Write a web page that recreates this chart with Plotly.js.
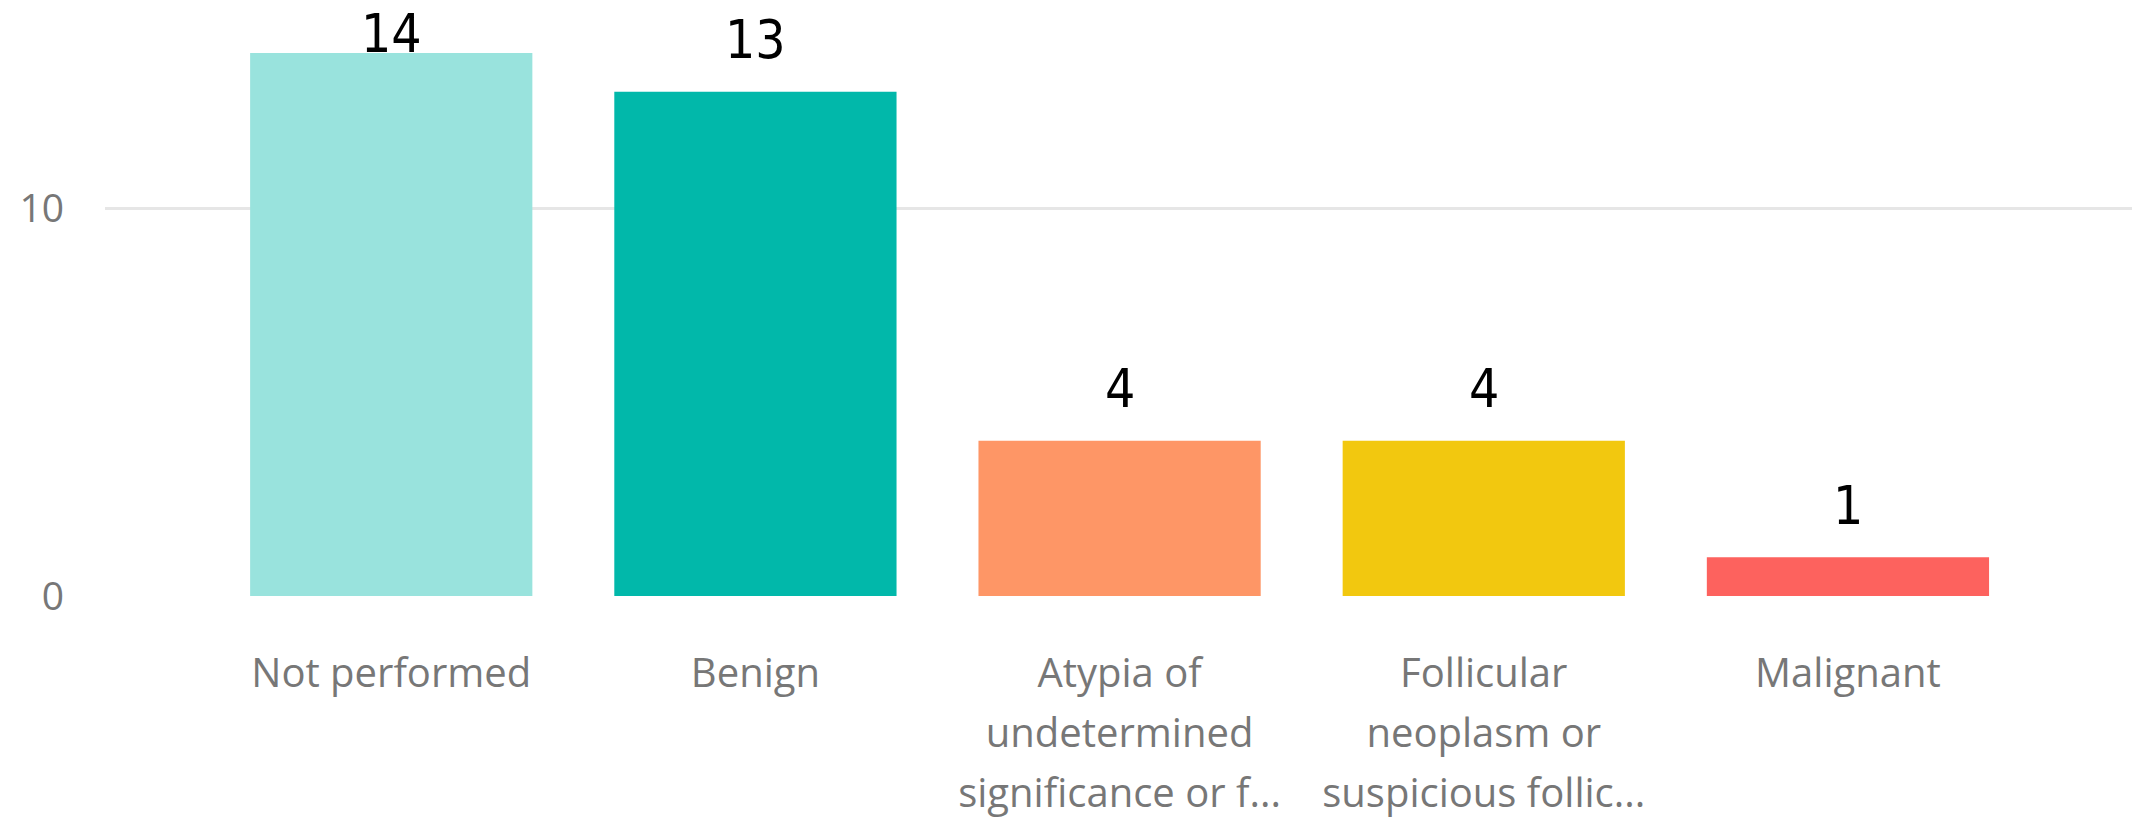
<!DOCTYPE html>
<html>
<head>
<meta charset="utf-8">
<script src="https://cdn.plot.ly/plotly-3.0.1.min.js"></script>
<style>
html,body{margin:0;padding:0;background:#fff;}
#chart{width:2132px;height:825px;}
</style>
</head>
<body>
<div id="chart"></div>
<script>
const categories = [
  "Not performed",
  "Benign",
  "Atypia of<br>undetermined<br>significance or f...",
  "Follicular<br>neoplasm or<br>suspicious follic...",
  "Malignant"
];
const values = [14, 13, 4, 4, 1];
const barColors = ["#99E3DD", "#01B8AA", "#FE9666", "#F2C80F", "#FD625E"];
const yTickVals = [0, 10];
const yTickText = ["0", "10"];

const H = 825, marginT = 20, marginB = 229;
const yMax = 14.85;
const plotH = H - marginT - marginB;
const pxPerUnit = plotH / yMax;
const labelShift = 52;
const minCenterPx = 33;

const annotations = values.map((v, i) => {
  const topPx = marginT + (yMax - v) * pxPerUnit;
  const shift = Math.min(labelShift, topPx - minCenterPx);
  return {
    x: i, y: v, xref: 'x', yref: 'y',
    text: String(v), showarrow: false,
    yanchor: 'middle', yshift: shift,
    font: {family: '"Liberation Sans Narrow", "DejaVu Sans Condensed", "Roboto", sans-serif', size: 53, color: '#000000'}
  };
});

const trace = {
  type: 'bar',
  x: categories.map((c, i) => i),
  y: values,
  marker: {color: barColors},
  hoverinfo: 'none'
};

const layout = {
  width: 2132, height: H,
  margin: {l: 105, r: 0, t: marginT, b: marginB},
  paper_bgcolor: '#ffffff', plot_bgcolor: '#ffffff',
  bargap: 0.225,
  showlegend: false,
  font: {family: '"Open Sans", "Noto Sans", sans-serif', color: '#777777'},
  xaxis: {
    type: 'linear',
    range: [-0.786, 4.78],
    tickvals: categories.map((c, i) => i),
    ticktext: categories,
    showgrid: false, zeroline: false, showline: false,
    ticks: '',
    ticklabelstandoff: 50,
    tickfont: {size: 40, color: '#777777'}
  },
  yaxis: {
    range: [0, yMax],
    tickvals: yTickVals,
    ticktext: yTickText,
    showgrid: true, gridcolor: '#E6E6E6', gridwidth: 3,
    zeroline: false, showline: false, ticks: '',
    ticklabelstandoff: 40,
    tickfont: {size: 39, color: '#777777'}
  },
  annotations: annotations
};

Plotly.newPlot('chart', [trace], layout, {staticPlot: true, displayModeBar: false}).then(gd => {
  // widen line spacing of multi-line category labels to match the reference
  gd.querySelectorAll('.xtick text tspan.line').forEach(t => {
    const dy = parseFloat(t.getAttribute('dy'));
    if (!isNaN(dy)) t.setAttribute('dy', (dy / 1.3 * 1.5) + 'em');
  });
});
</script>
</body>
</html>
